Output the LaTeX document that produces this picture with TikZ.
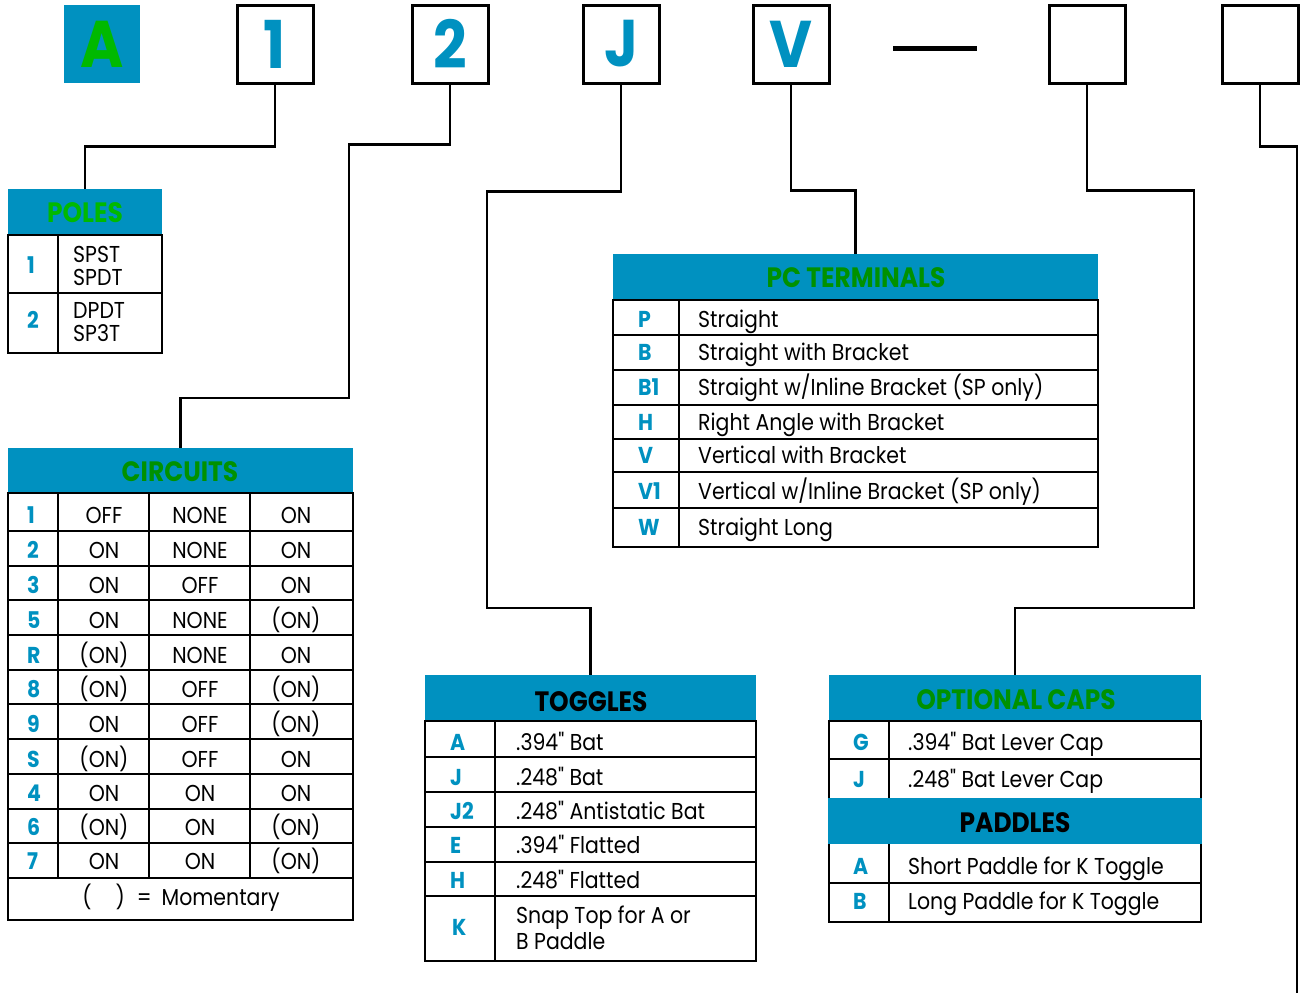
\documentclass[tikz,border=0pt]{standalone}
\usepackage{fontspec}
\setmainfont{Poppins}[FakeStretch=0.89, Ligatures=TeXOff]
\definecolor{hblue}{RGB}{0,145,192}
\definecolor{hgreen}{RGB}{0,145,0}
\definecolor{agreen}{RGB}{0,185,0}
\newcommand\mytxt{\fontsize{23}{25}\selectfont}
\newcommand\mycode{\fontsize{23}{25}\selectfont\bfseries}
\newcommand\myhdr{\fontsize{28}{30}\selectfont\bfseries}
\newcommand\mybig{\fontsize{66}{66}\selectfont\bfseries}
\tikzset{
  conn/.style={line width=2.5pt},
  topbox/.style={draw, line width=3pt, minimum width=76pt, minimum height=78pt, inner sep=0pt, text=hblue, font=\mybig},
  area/.style={inner sep=0pt, draw=none, anchor=north west},
  outerline/.style={line width=2.5pt},
  innerline/.style={line width=1.3pt},
  code/.style={text=hblue, font=\mycode, inner sep=0pt, anchor=base west},
  txt/.style={font=\mytxt, inner sep=0pt, anchor=base west},
  cell/.style={font=\mytxt, inner sep=0pt, anchor=base},
  gtitle/.style={font=\myhdr, text=hgreen, inner sep=0pt, anchor=base},
  ktitle/.style={font=\myhdr, text=black, inner sep=0pt, anchor=base},
}
\begin{document}
\begin{tikzpicture}[x=1pt,y=-1pt]
\useasboundingbox (0,0) rectangle (1303,993);
% ---- top code boxes ----
\node[fill=hblue, minimum width=76pt, minimum height=78pt, inner sep=0pt, text=agreen, font=\mybig] (bA) at (102,44) {A};
\node[topbox] (b1) at (275,44) {1};
\node[topbox] (b2) at (450,44) {2};
\node[topbox] (bJ) at (621,44) {J};
\node[topbox] (bV) at (791,44) {V};
\draw[line width=5pt] (893,48) -- (977,48);
\node[topbox] (bE) at (1087,44) {};
\node[topbox] (bL) at (1260,44) {};
% ---- table areas ----
\node[area, minimum width=154pt, minimum height=164pt] (poles) at (8,189) {};
\node[area, minimum width=345pt, minimum height=472pt] (circ) at (8,448) {};
\node[area, minimum width=485pt, minimum height=293pt] (pct) at (613,254) {};
\node[area, minimum width=331pt, minimum height=286pt] (tog) at (425,675) {};
\node[area, minimum width=372pt, minimum height=247pt] (caps) at (829,675) {};
\coordinate (endL) at (1297,993);
% ---- connectors ----
\draw[conn] (b1.south) -- ++(0,62) -| (poles.north);
\draw[conn] (b2.south) -- ++(0,60) -| (349,398) -| (circ.north);
\draw[conn] (bJ.south) -- ++(0,107) -| (487,608) -| (tog.north);
\draw[conn] (bV.south) -- ++(0,106) -| (pct.north);
\draw[conn] (bE.south) -- ++(0,106) -| (1194,608) -| (caps.north);
\draw[conn] (bL.south) -- ++(0,62) -| (endL);
% ---- POLES ----
\fill[hblue] (8,189) rectangle (162,235);
\draw[innerline] (8,293) -- (162,293) (58,235) -- (58,353);
\draw[outerline] (8,235) rectangle (162,353);
\node[gtitle, text=agreen] at (85,222) {POLES};
\node[code] at (27,273) {1};
\node[code] at (27,328) {2};
\node[txt] at (73,262) {SPST};
\node[txt] at (73,285) {SPDT};
\node[txt] at (73,318) {DPDT};
\node[txt] at (73,341) {SP3T};
% ---- CIRCUITS ----
\fill[hblue] (8,448) rectangle (353,493);
\foreach \yy in {531,566,600,635,670,704,739,774,809,843,878}
  \draw[innerline] (8,\yy) -- (353,\yy);
\foreach \xx in {58,149,250}
  \draw[innerline] (\xx,493) -- (\xx,878);
\draw[outerline] (8,493) rectangle (353,920);
\node[gtitle] at (180,481) {CIRCUITS};
\foreach \ca/\cb/\cc/\cd/\yy in {1/OFF/NONE/ON/523, 2/ON/NONE/ON/558, 3/ON/OFF/ON/593,
   5/ON/NONE/{(ON)}/628, R/{(ON)}/NONE/ON/663, 8/{(ON)}/OFF/{(ON)}/697, 9/ON/OFF/{(ON)}/732,
   S/{(ON)}/OFF/ON/767, 4/ON/ON/ON/801, 6/{(ON)}/ON/{(ON)}/835, 7/ON/ON/{(ON)}/869}{
  \node[code] at (27,\yy) {\ca};
  \node[cell] at (104,\yy) {\cb};
  \node[cell] at (200,\yy) {\cc};
  \node[cell] at (296,\yy) {\cd};
}
\node[cell] at (181,905) {(\hspace{24pt})\hspace{12pt}=\hspace{10pt}Momentary};
% ---- PC TERMINALS ----
\fill[hblue] (613,254) rectangle (1098,300);
\foreach \yy in {335,370,405,439,472,508}
  \draw[innerline] (613,\yy) -- (1098,\yy);
\draw[innerline] (679,300) -- (679,547);
\draw[outerline] (613,300) rectangle (1098,547);
\node[gtitle] at (856,287) {PC TERMINALS};
\foreach \ca/\tt/\yy in {P/Straight/327, B/Straight with Bracket/360,
   B1/{Straight w/Inline Bracket (SP only)}/395, H/Right Angle with Bracket/430,
   V/Vertical with Bracket/463, V1/{Vertical w/Inline Bracket (SP only)}/499,
   W/Straight Long/535}{
  \node[code] at (638,\yy) {\ca};
  \node[txt] at (698,\yy) {\tt};
}
% ---- TOGGLES ----
\fill[hblue] (425,675) rectangle (756,721);
\foreach \yy in {757,792,827,862,896}
  \draw[innerline] (425,\yy) -- (756,\yy);
\draw[innerline] (495,721) -- (495,961);
\draw[outerline] (425,721) rectangle (756,961);
\node[ktitle] at (591,711) {TOGGLES};
\foreach \ca/\tt/\yy in {A/{.394" Bat}/750, J/{.248" Bat}/785, J2/{.248" Antistatic Bat}/819,
   E/{.394" Flatted}/853, H/{.248" Flatted}/888}{
  \node[code] at (450,\yy) {\ca};
  \node[txt] at (516,\yy) {\tt};
}
\node[code] at (452,935) {K};
\node[txt] at (516,923) {Snap Top for A or};
\node[txt] at (516,949) {B Paddle};
% ---- OPTIONAL CAPS / PADDLES ----
\fill[hblue] (829,675) rectangle (1201,721);
\draw[innerline] (829,759) -- (1201,759) (829,883) -- (1201,883);
\draw[innerline] (889,721) -- (889,798) (889,844) -- (889,922);
\draw[outerline] (829,721) rectangle (1201,922);
\fill[hblue] (827.75,798) rectangle (1202.25,844);
\node[gtitle] at (1016,709) {OPTIONAL CAPS};
\node[ktitle] at (1015,832) {PADDLES};
\node[code] at (853,750) {G};
\node[txt] at (908,750) {.394" Bat Lever Cap};
\node[code] at (853,787) {J};
\node[txt] at (908,787) {.248" Bat Lever Cap};
\node[code] at (853,874) {A};
\node[txt] at (908,874) {Short Paddle for K Toggle};
\node[code] at (853,909) {B};
\node[txt] at (908,909) {Long Paddle for K Toggle};
\end{tikzpicture}
\end{document}
